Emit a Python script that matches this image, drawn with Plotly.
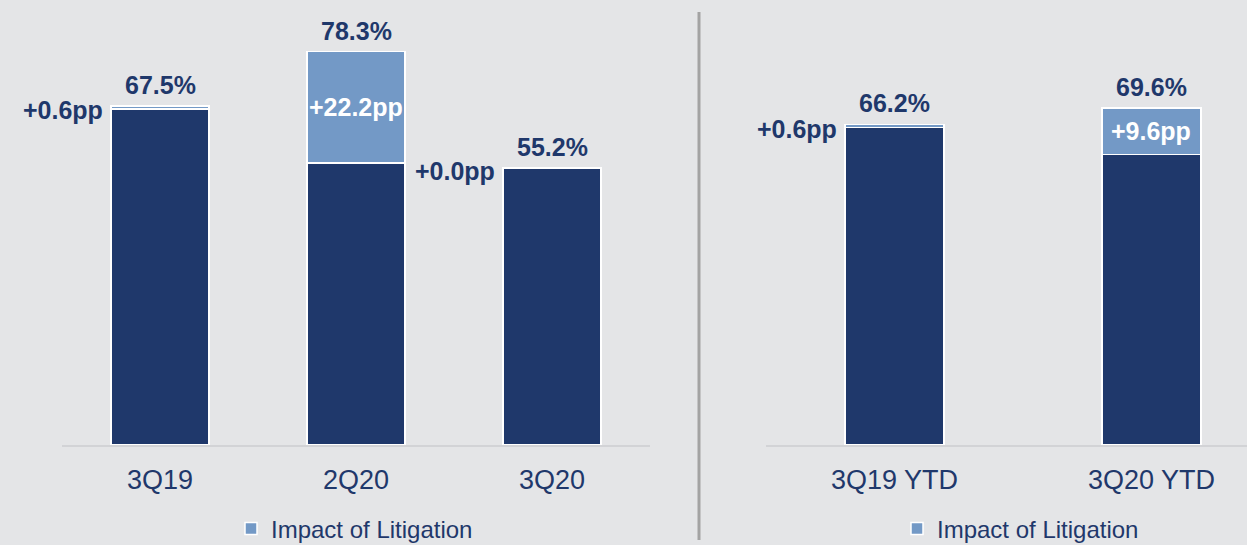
import plotly.graph_objects as go

# Quarterly efficiency ratio, split into base and litigation impact
q_labels = ['3Q19', '2Q20', '3Q20']
q_base = [66.9, 56.1, 55.2]
q_litigation = [0.6, 22.2, 0.0]

ytd_labels = ['3Q19 YTD', '3Q20 YTD']
ytd_base = [65.6, 60.0]
ytd_litigation = [0.6, 9.6]

NAVY = '#1F386B'
LIGHT = '#7399C6'
BG = '#E4E5E7'
FONT = 'Liberation Sans, Arial, sans-serif'

W, H = 1247, 545

fig = go.Figure()


def add_panel(labels, base, lit, xa, ya, legend, half_px):
    fig.add_trace(go.Bar(
        x=labels, y=base, xaxis=xa, yaxis=ya,
        marker=dict(color=NAVY, line=dict(color='white', width=1.5)),
        showlegend=False, hoverinfo='skip'
    ))
    fig.add_trace(go.Bar(
        x=labels, y=lit, xaxis=xa, yaxis=ya,
        name='Impact of Litigation', legend=legend,
        marker=dict(color=LIGHT, line=dict(color='white', width=1.5)),
        showlegend=True
    ))
    for lab, b, l in zip(labels, base, lit):
        total = b + l
        fig.add_annotation(
            x=lab, y=total, xref=xa, yref=ya, yshift=21,
            text=f'<b>{total:.1f}%</b>', showarrow=False,
            font=dict(family=FONT, size=25, color=NAVY)
        )
        if l > 5:
            # big enough to hold its own label
            fig.add_annotation(
                x=lab, y=b + l / 2, xref=xa, yref=ya,
                text=f'<b>+{l:.1f}pp</b>', showarrow=False,
                font=dict(family=FONT, size=25, color='white')
            )
        else:
            fig.add_annotation(
                x=lab, y=b + l / 2, xref=xa, yref=ya,
                xanchor='right', xshift=-half_px - 6, yshift=-3,
                text=f'<b>+{l:.1f}pp</b>', showarrow=False,
                font=dict(family=FONT, size=25, color=NAVY)
            )


add_panel(q_labels, q_base, q_litigation, 'x', 'y', 'legend', 49)
add_panel(ytd_labels, ytd_base, ytd_litigation, 'x2', 'y2', 'legend2', 49.5)

axis_common = dict(
    showline=True, linecolor='#D2D3D6', linewidth=2,
    showgrid=False, zeroline=False, ticks='',
    ticklabelstandoff=10,
    tickfont=dict(family=FONT, size=27, color=NAVY)
)
y_common = dict(showgrid=False, zeroline=False, showticklabels=False,
                domain=[100 / H, 1])
legend_font = dict(family=FONT, size=24, color=NAVY)

fig.update_layout(
    width=W, height=H,
    # legends sit at the very bottom; don't let them push the margins
    margin=dict(l=0, r=0, t=0, b=0, autoexpand=False),
    paper_bgcolor=BG, plot_bgcolor=BG,
    barmode='stack',
    bargap=0.5,
    xaxis=dict(domain=[62 / W, 650 / W], range=[-0.5, 2.5], **axis_common),
    xaxis2=dict(domain=[766 / W, 1], range=[-0.5, 1.372], anchor='y2', **axis_common),
    yaxis=dict(range=[0, 88.6], **y_common),
    yaxis2=dict(range=[0, 91.9], anchor='x2', **y_common),
    legend=dict(x=231 / W, y=16 / H, xanchor='left', yanchor='middle',
                bgcolor='rgba(0,0,0,0)', font=legend_font),
    legend2=dict(x=897 / W, y=16 / H, xanchor='left', yanchor='middle',
                 bgcolor='rgba(0,0,0,0)', font=legend_font),
    shapes=[dict(type='line', xref='paper', yref='paper',
                 x0=699 / W, x1=699 / W, y0=5 / H, y1=533 / H,
                 line=dict(color='#A3A3A3', width=3))]
)

# right panel bars are a bit narrower relative to category spacing
fig.update_traces(width=0.385, selector=dict(xaxis='x2'))

page_css = (
    "document.documentElement.style.margin='0';"
    "document.documentElement.style.overflow='hidden';"
    "document.body.style.margin='0';"
    "document.body.style.overflow='hidden';"
)
fig.write_html('out.html', config={'displayModeBar': False}, post_script=page_css)
